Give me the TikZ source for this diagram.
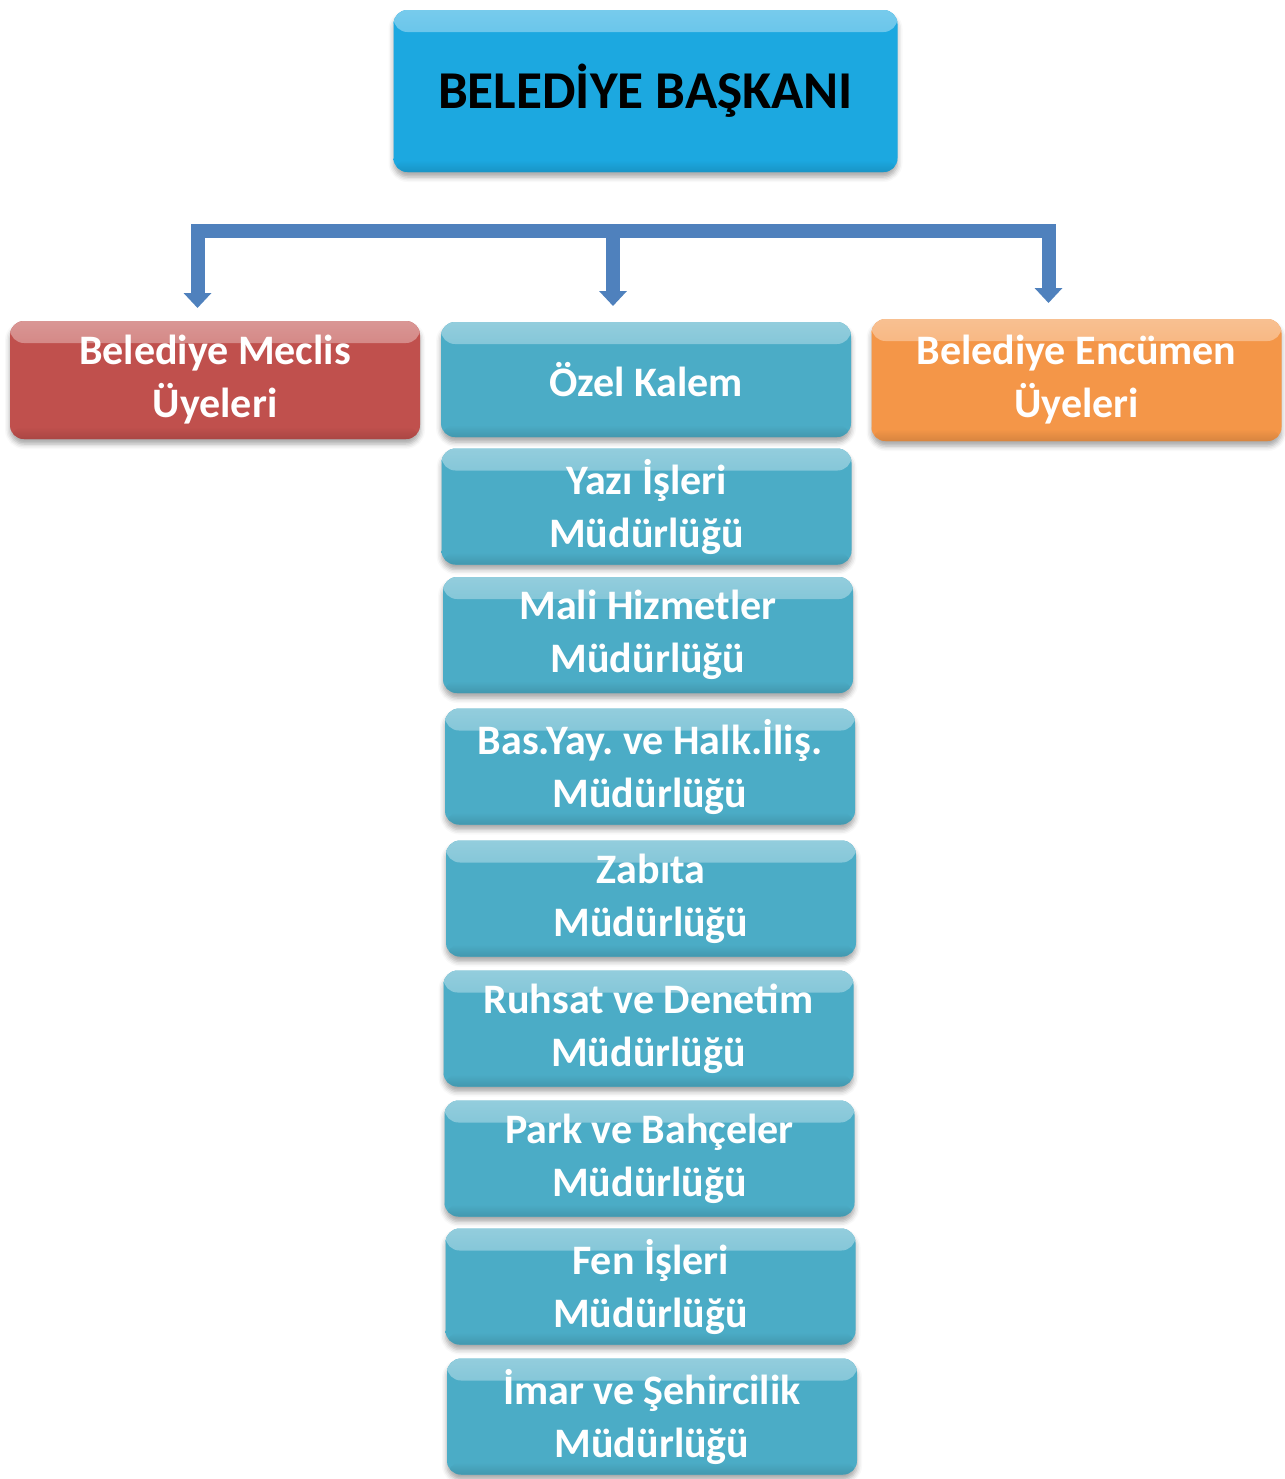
\documentclass[tikz,border=0pt]{standalone}
\usepackage{fontspec}
\setmainfont{Carlito}
\frenchspacing
\usetikzlibrary{arrows.meta,shadows.blur}
\definecolor{topblue}{RGB}{28,168,224}
\definecolor{aqua}{RGB}{75,172,198}
\definecolor{redbox}{RGB}{192,80,77}
\definecolor{orangebox}{RGB}{244,150,72}
\definecolor{conncol}{RGB}{79,129,189}
\tikzset{
  gbox/.style={rounded corners=7pt, minimum width=205pt, minimum height=58pt,
    inner sep=0pt, align=center, text=white,
    font=\fontsize{21}{26.5}\selectfont\bfseries, fill=#1,
    blur shadow={shadow xshift=0pt, shadow yshift=-2.5pt, shadow blur radius=2.5pt, shadow opacity=35},
    path picture={
      \shade[top color=#1!60!white, bottom color=#1]
        (path picture bounding box.north west) rectangle ([yshift=-11pt]path picture bounding box.north east);
      \shade[top color=#1, bottom color=#1!88!black]
        ([yshift=6pt]path picture bounding box.south west) rectangle (path picture bounding box.south east);
    }},
  conn/.style={draw=conncol, line width=7pt, line join=miter},
  >={Triangle[width=13.5pt, length=7.5pt]},
}
\begin{document}
\begin{tikzpicture}[x=0.5pt,y=-0.5pt]
\useasboundingbox (0,0) rectangle (1285,1479);
% top box
\node[gbox=topblue, text=black, minimum width=252pt, minimum height=81pt,
  font=\fontsize{26.6}{32}\selectfont\bfseries] (top) at (645.5,91) {BELEDİYE BAŞKANI};
% side boxes
\node[gbox=redbox, minimum height=59pt] (meclis) at (215,380) {Belediye Meclis\\Üyeleri};
\node[gbox=orangebox, minimum height=61pt] (encumen) at (1076.5,380) {Belediye Encümen\\Üyeleri};
% center column
\node[gbox=aqua, minimum height=57.5pt] (ozel) at (646,379.5) {Özel Kalem};
\node[gbox=aqua] (yazi) at (646.5,506.5) {Yazı İşleri\\Müdürlüğü};
\node[gbox=aqua] (mali) at (648,635) {Mali Hizmetler\\Müdürlüğü};
\node[gbox=aqua] (bas) at (650,766.5) {Bas.Yay. ve Halk.İliş.\\Müdürlüğü};
\node[gbox=aqua] (zabita) at (651,898.5) {Zabıta\\Müdürlüğü};
\node[gbox=aqua] (ruhsat) at (648.5,1028.5) {Ruhsat ve Denetim\\Müdürlüğü};
\node[gbox=aqua] (park) at (649.5,1158.5) {Park ve Bahçeler\\Müdürlüğü};
\node[gbox=aqua] (fen) at (650.5,1286.5) {Fen İşleri\\Müdürlüğü};
\node[gbox=aqua] (imar) at (652,1416.5) {İmar ve Şehircilik\\Müdürlüğü};
% connectors
\coordinate (bl) at (197.5,231);
\coordinate (br) at (1048.5,231);
\coordinate (bm) at (613,231);
\coordinate (la) at (197.5,308);
\coordinate (ra) at (1048.5,303);
\coordinate (ca) at (613,306);
\draw[conn, <->] (la) -- (bl) -- (br) -- (ra);
\draw[conn, ->] (bm) -- (ca);
\end{tikzpicture}
\end{document}
